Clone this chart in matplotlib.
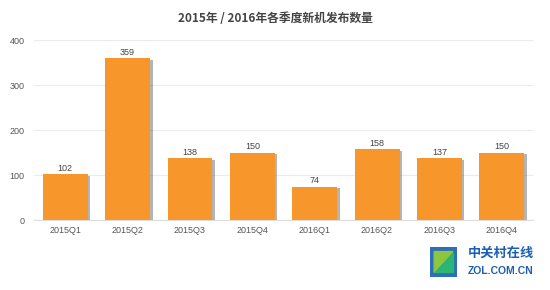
import matplotlib
matplotlib.use("Agg")
import matplotlib.pyplot as plt
import matplotlib.patheffects as pe

plt.rcParams['font.family'] = ['Noto Sans CJK SC', 'DejaVu Sans']

categories = ["2015Q1", "2015Q2", "2015Q3", "2015Q4", "2016Q1", "2016Q2", "2016Q3", "2016Q4"]
values = [102, 359, 138, 150, 74, 158, 137, 150]
yticks = [0, 100, 200, 300, 400]
title = "2015年 / 2016年各季度新机发布数量"

fig = plt.figure(figsize=(5.5, 2.9), dpi=100)
ax = fig.add_axes([0.062, 0.241, 0.907, 0.621])

x = list(range(len(categories)))
bars = ax.bar(x, values, width=0.72, color="#F7962B", zorder=3)
for b in bars:
    b.set_path_effects([pe.SimplePatchShadow(offset=(1.8, -1.2), shadow_rgbFace="#444444", alpha=0.4), pe.Normal()])

for xi, v in zip(x, values):
    ax.text(xi, v + 3, str(v), ha="center", va="bottom", fontsize=6.5, color="#444444",
            family=["Liberation Sans", "DejaVu Sans"], zorder=4)

ax.set_xlim(-0.5, len(categories) - 0.5)
ax.set_ylim(0, 400)
ax.set_yticks(yticks)
ax.set_yticklabels([str(t) for t in yticks], fontsize=6.5, color="#555555", family=["Liberation Sans", "DejaVu Sans"])
ax.set_xticks(x)
ax.set_xticklabels(categories, fontsize=6.5, color="#555555", family=["Liberation Sans", "DejaVu Sans"])
ax.tick_params(length=0, pad=4)
ax.tick_params(axis="y", pad=7)
ax.grid(axis="y", color="#ebebeb", linewidth=0.8, zorder=0)
for s in ["top", "right", "left"]:
    ax.spines[s].set_visible(False)
ax.spines["bottom"].set_color("#dddddd")
ax.spines["bottom"].set_linewidth(0.8)

fig.text(0.5, 0.935, title, ha="center", va="center", fontsize=8.5, color="#444444", fontweight="bold")

# watermark
fig.text(0.911, 0.128, "中关村在线", ha="center", va="center", fontsize=9.5, color="#1a5fb4", fontweight="bold")
fig.text(0.911, 0.066, "ZOL.COM.CN", ha="center", va="center", fontsize=7.5, color="#1a5fb4", fontweight="bold",
         family=["Liberation Sans", "DejaVu Sans"])
ax_logo = fig.add_axes([0.782, 0.045, 0.049, 0.103])
ax_logo.axis("off")
ax_logo.fill([0, 1, 1, 0], [0, 0, 1, 1], color="#2c6fb8")
ax_logo.fill([0.15, 0.85, 0.15], [0.85, 0.85, 0.15], color="#8cc63f")
ax_logo.fill([0.2, 0.85, 0.85], [0.15, 0.15, 0.8], color="#2bb673")
ax_logo.set_xlim(0, 1)
ax_logo.set_ylim(0, 1)

fig.savefig("out.png", dpi=100)
